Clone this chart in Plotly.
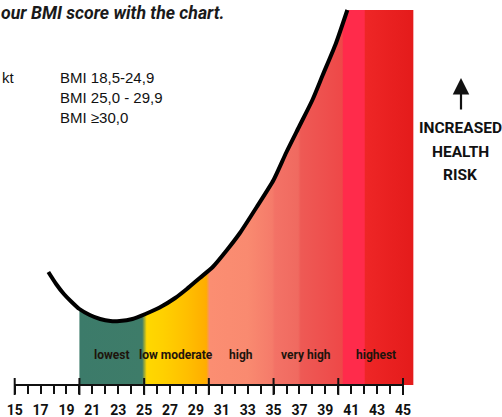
import plotly.graph_objects as go

# ---------------- data ----------------
bmi_curve = [17.6, 18.2, 18.8, 19.4, 20.0, 20.8, 21.6, 22.4, 23.1, 24.1, 25.1, 26.2,
             27.4, 28.3, 29.3, 30.3, 31.4, 32.4, 33.7, 35.0, 36.0, 37.0, 38.0, 38.8,
             39.8, 40.7]
risk_curve = [113, 101, 91, 83, 76, 70, 66, 64, 64, 66, 71, 77.5,
              87, 96, 107, 118, 135, 152, 178, 205, 233, 259, 285, 310,
              341, 375]
band_names = ["lowest", "low moderate", "high", "very high", "highest"]
band_edges = [20, 25, 30, 35, 40, 45.8]
tick_values = list(range(15, 46, 2))
tick_labels = [str(v) for v in tick_values]
minor_values = list(range(16, 45, 2))
major_values = list(range(15, 46, 5))
legend_lines = ["BMI 18,5-24,9", "BMI 25,0 - 29,9", "BMI \u226530,0"]
title_text = "our BMI score with the chart."
side_lines = ["INCREASED", "HEALTH", "RISK"]

# ---------------- style ----------------
grad_stops = [
    (20.0, '#3c7b6a'), (24.85, '#3e7c69'), (25.2, '#ffd800'), (26.5, '#ffd000'),
    (28.3, '#ffbf00'), (29.8, '#ffad00'), (30.05, '#fb8e72'), (33.0, '#f98a70'),
    (34.9, '#f57b6a'), (35.1, '#f37266'), (36.9, '#f06a60'), (37.1, '#ee5a55'),
    (40.3, '#ee4848'), (40.4, '#ff2b4b'), (42.0, '#ff2b4b'), (42.1, '#ee2626'),
    (45.8, '#e41b1b'),
]
g0, g1 = band_edges[0], band_edges[-1]
colorscale = [[(b - g0) / (g1 - g0), c] for b, c in grad_stops]

COND = "Roboto, Liberation Sans, Arial, sans-serif"
SANS = "Liberation Sans, Arial, Helvetica, sans-serif"

W, H = 502, 417
PLOT_H = 385  # plot area height in px (t=0, b=32)

fig = go.Figure()

# filled coloured area under the curve from BMI 20 to the right end
fill_x = [x for x in bmi_curve if x >= band_edges[0]] + [band_edges[-1]]
fill_y = [y for x, y in zip(bmi_curve, risk_curve) if x >= band_edges[0]] + [risk_curve[-1]]
fig.add_trace(go.Scatter(
    x=fill_x, y=fill_y, mode='lines', line=dict(width=0, color='rgba(0,0,0,0)'),
    fill='tozeroy',
    fillgradient=dict(type='horizontal', colorscale=colorscale, start=g0, stop=g1),
    hoverinfo='skip', showlegend=False,
))

# the black risk curve
fig.add_trace(go.Scatter(
    x=bmi_curve, y=risk_curve, mode='lines',
    line=dict(color='black', width=4, shape='spline', smoothing=0.6),
    hoverinfo='skip', showlegend=False,
))

# band labels
for i, name in enumerate(band_names):
    fig.add_annotation(
        x=(band_edges[i] + band_edges[i + 1]) / 2, y=30, xref='x', yref='y',
        text=name, showarrow=False,
        font=dict(family=COND, size=12, color='#1e140c', weight='bold'),
    )

# axis baseline and major ticks
fig.add_shape(type='line', xref='x', yref='paper', x0=major_values[0], x1=major_values[-1],
              y0=0, y1=0, line=dict(color='#111', width=2))
for v in major_values:
    fig.add_shape(type='line', xref='x', yref='paper', x0=v, x1=v,
                  y0=7 / PLOT_H, y1=-10 / PLOT_H, line=dict(color='#111', width=2))

def px_x(px):
    return px / W

def px_y(py):
    return (PLOT_H - py) / PLOT_H

# title (cropped at left in reference)
fig.add_annotation(x=px_x(-1), y=px_y(13), xref='paper', yref='paper', xanchor='left',
                   yanchor='middle', text=title_text, showarrow=False,
                   font=dict(family=COND, size=17.7, color='#1a1a1a', weight='bold',
                             style='italic'))

# left legend-like text
fig.add_annotation(x=px_x(0), y=px_y(78), xref='paper', yref='paper', xanchor='left',
                   yanchor='middle', text="kt", showarrow=False,
                   font=dict(family=SANS, size=15, color='#111'))
for i, t in enumerate(legend_lines):
    fig.add_annotation(x=px_x(58), y=px_y(78 + 19.5 * i), xref='paper', yref='paper',
                       xanchor='left', yanchor='middle', text=t, showarrow=False,
                       font=dict(family=SANS, size=15, color='#111'))

# right side text and arrow
for i, t in enumerate(side_lines):
    fig.add_annotation(x=px_x(460), y=px_y(128 + 23.5 * i), xref='paper', yref='paper',
                       xanchor='center', yanchor='middle', text=t, showarrow=False,
                       font=dict(family=COND, size=15.5, color='#111', weight='bold'))
fig.add_annotation(x=px_x(461), y=px_y(78), xref='paper', yref='paper',
                   ax=0, ay=33, axref='pixel', ayref='pixel',
                   text='', showarrow=True, arrowhead=2, arrowsize=1.5,
                   arrowwidth=2.2, arrowcolor='#111')

fig.update_layout(
    width=W, height=H,
    margin=dict(l=0, r=0, t=0, b=H - PLOT_H, pad=0),
    paper_bgcolor='white', plot_bgcolor='white',
    showlegend=False,
    xaxis=dict(
        range=[15 - 14.7 / 12.943, 15 - 14.7 / 12.943 + W / 12.943],
        showgrid=False, zeroline=False, showline=False,
        tickmode='array', tickvals=tick_values, ticktext=tick_labels,
        ticks='outside', ticklen=8, tickwidth=1.5, tickcolor='#111',
        ticklabelstandoff=4,
        tickfont=dict(family=COND, size=14, color='#111', weight='bold'),
        minor=dict(tickmode='array', tickvals=minor_values, ticks='outside',
                   ticklen=8, tickwidth=1.5, tickcolor='#111'),
        automargin=False, fixedrange=True,
    ),
    yaxis=dict(range=[0, PLOT_H], visible=False, fixedrange=True),
)

fig.write_html("out.html", config={'displayModeBar': False},
               post_script="document.body.style.margin='0px';document.body.style.overflow='hidden';")
